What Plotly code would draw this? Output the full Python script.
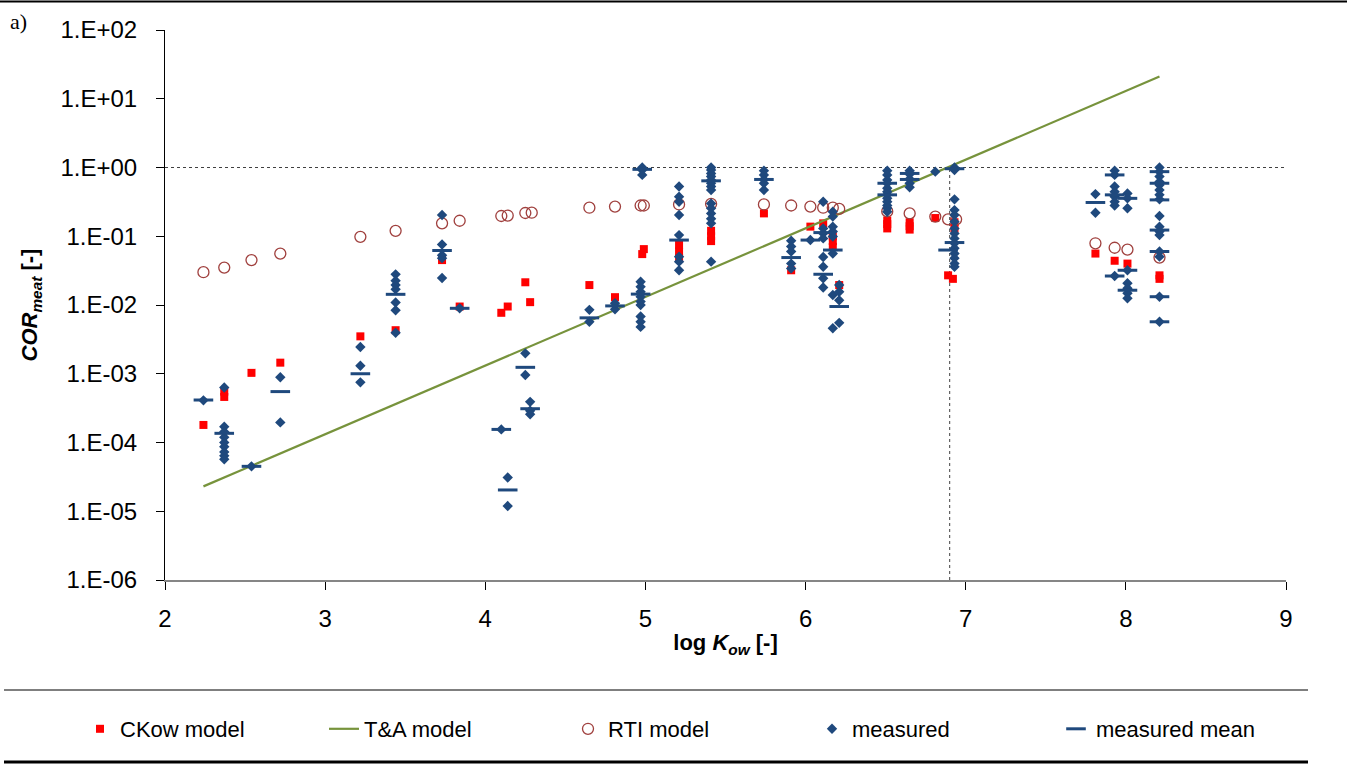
import plotly.graph_objects as go

# ---------------- data ----------------
ckow_x = [2.24, 2.37, 2.37, 2.54, 2.72, 3.22, 3.44, 3.73, 3.84, 4.10, 4.14, 4.25, 4.28,
          4.65, 4.81, 4.98, 4.99, 5.21, 5.21, 5.21, 5.41, 5.41, 5.41, 5.74, 5.91, 6.03,
          6.11, 6.17, 6.17, 6.17, 6.21, 6.51, 6.51, 6.51, 6.65, 6.65, 6.65, 6.81, 6.93,
          6.93, 6.89, 6.92, 7.81, 7.93, 8.01, 8.21, 8.21]
ckow_y = [1.8e-4, 5.5e-4, 4.6e-4, 1.03e-3, 1.45e-3, 3.5e-3, 4.3e-3, 0.045, 9.5e-3, 7.7e-3,
          9.5e-3, 0.0214, 0.011, 0.0195, 0.013, 0.055, 0.065, 0.075, 0.06, 0.048, 0.12, 0.1,
          0.085, 0.215, 0.032, 0.138, 0.154, 0.1, 0.085, 0.07, 0.0195, 0.17, 0.15, 0.13, 0.16,
          0.14, 0.125, 0.184, 0.16, 0.13, 0.027, 0.024, 0.056, 0.044, 0.040, 0.027, 0.024]

ta_x = [2.24, 8.21]
ta_y = [2.3e-5, 21.0]

rti_x = [2.24, 2.37, 2.54, 2.72, 3.22, 3.44, 3.73, 3.84, 4.10, 4.14, 4.25, 4.29, 4.65, 4.81,
         4.97, 4.99, 5.21, 5.41, 5.74, 5.91, 6.03, 6.11, 6.17, 6.21, 6.51, 6.65, 6.81, 6.89,
         6.94, 7.81, 7.93, 8.01, 8.21]
rti_y = [0.030, 0.035, 0.045, 0.056, 0.098, 0.12, 0.154, 0.168, 0.197, 0.20, 0.218, 0.22,
         0.26, 0.27, 0.28, 0.28, 0.29, 0.295, 0.29, 0.28, 0.27, 0.26, 0.26, 0.25, 0.23, 0.215,
         0.193, 0.176, 0.176, 0.079, 0.068, 0.064, 0.049]

meas_x = ([2.24] + [2.37] * 9 + [2.54] + [2.72] * 2 + [3.22] * 3 + [3.44] * 7 + [3.73] * 5 +
          [3.84] + [4.10] + [4.14] * 2 + [4.25] * 2 + [4.28] * 3 + [4.65] * 2 + [4.81] * 2 +
          [4.98] * 3 + [4.97] * 9 + [5.21] * 8 + [5.41] * 14 + [5.74] * 5 + [5.91] * 5 +
          [6.03] + [6.11] * 8 + [6.17] * 8 + [6.21] * 4 + [6.51] * 12 + [6.65] * 5 + [6.81] +
          [6.93] * 15 + [7.81] * 2 + [7.93] * 8 + [8.01] * 8 + [8.21] * 16)
meas_y = [4.1e-4,
          6.3e-4, 1.7e-4, 1.43e-4, 1.19e-4, 1.0e-4, 8.7e-5, 7.3e-5, 6.4e-5, 5.7e-5,
          4.5e-5,
          8.9e-4, 1.96e-4,
          2.45e-3, 1.31e-3, 7.5e-4,
          0.0279, 0.0226, 0.0195, 0.0169, 0.0109, 8.4e-3, 3.95e-3,
          0.204, 0.076, 0.053, 0.048, 0.0247,
          8.95e-3,
          1.55e-4,
          3.1e-5, 1.19e-5,
          1.98e-3, 9.6e-4,
          3.9e-4, 2.9e-4, 2.57e-4,
          8.5e-3, 5.7e-3,
          0.0106, 8.65e-3,
          1.0, 0.92, 0.78,
          0.0218, 0.0185, 0.0156, 0.0132, 0.0112, 0.01, 6.8e-3, 5.7e-3, 4.8e-3,
          0.53, 0.376, 0.318, 0.204, 0.104, 0.0505, 0.0427, 0.032,
          1.0, 0.92, 0.82, 0.74, 0.66, 0.59, 0.53, 0.47, 0.30, 0.255, 0.215, 0.18, 0.154, 0.0427,
          0.9, 0.78, 0.67, 0.59, 0.47,
          0.086, 0.071, 0.06, 0.04, 0.034,
          0.088,
          0.318, 0.13, 0.11, 0.093, 0.05, 0.036, 0.0244, 0.018,
          0.227, 0.193, 0.138, 0.117, 0.099, 0.056, 0.014, 4.6e-3,
          0.0195, 0.0156, 0.0117, 5.5e-3,
          0.9, 0.78, 0.66, 0.59, 0.5, 0.445, 0.4, 0.356, 0.318, 0.28, 0.255, 0.227,
          0.9, 0.8, 0.68, 0.59, 0.515,
          0.87,
          1.0, 0.92, 0.344, 0.24, 0.204, 0.163, 0.13, 0.11, 0.093, 0.079, 0.067, 0.056, 0.048,
          0.040, 0.036,
          0.41, 0.22,
          0.9, 0.78, 0.53, 0.445, 0.376, 0.318, 0.28, 0.0264,
          0.42, 0.356, 0.255, 0.032, 0.0207, 0.0175, 0.0148, 0.0125,
          1.0, 0.87, 0.74, 0.62, 0.556, 0.47, 0.40, 0.344, 0.197, 0.138, 0.117, 0.104, 0.06,
          0.0505, 0.0132, 5.7e-3]

mean_x = [2.24, 2.37, 2.54, 2.72, 3.22, 3.44, 3.73, 3.84, 4.10, 4.14, 4.25, 4.28, 4.65, 4.81,
          4.98, 4.97, 5.21, 5.41, 5.74, 5.91, 6.03, 6.11, 6.11, 6.17, 6.21, 6.51, 6.51, 6.65,
          6.65, 6.93, 6.93, 6.89, 7.81, 7.93, 7.93, 7.93, 8.01, 8.01, 8.01, 8.21, 8.21, 8.21,
          8.21, 8.21, 8.21, 8.21]
mean_y = [4.15e-4, 1.36e-4, 4.5e-5, 5.5e-4, 1.0e-3, 0.0143, 0.062, 8.95e-3, 1.55e-4, 2.04e-5,
          1.24e-3, 3.1e-4, 6.5e-3, 9.7e-3, 0.94, 0.0144, 0.088, 0.64, 0.67, 0.049, 0.088,
          0.113, 0.028, 0.063, 9.5e-3, 0.59, 0.40, 0.82, 0.67, 0.96, 0.081, 0.063, 0.31,
          0.78, 0.40, 0.0264, 0.356, 0.032, 0.0164, 0.87, 0.59, 0.338, 0.123, 0.06, 0.0132,
          5.7e-3]

y_tickvals = [1e-6, 1e-5, 1e-4, 1e-3, 1e-2, 1e-1, 1e0, 1e1, 1e2]
y_ticktext = ["1.E-06", "1.E-05", "1.E-04", "1.E-03", "1.E-02", "1.E-01", "1.E+00",
              "1.E+01", "1.E+02"]
x_tickvals = [2, 3, 4, 5, 6, 7, 8, 9]

ref_y = 1.0     # horizontal dashed reference
ref_x = 6.9     # vertical dashed reference

# ---------------- figure ----------------
BLUE = "#1F497D"
FONT = "Liberation Sans, Arial, sans-serif"

fig = go.Figure()
fig.add_trace(go.Scatter(x=ckow_x, y=ckow_y, mode="markers", name="CKow model",
                         marker=dict(symbol="square", size=8, color="#FF0000")))
fig.add_trace(go.Scatter(x=ta_x, y=ta_y, mode="lines", name="T&A model",
                         line=dict(color="#77933C", width=2.2)))
fig.add_trace(go.Scatter(x=rti_x, y=rti_y, mode="markers", name="RTI model",
                         marker=dict(symbol="circle-open", size=11, color="#A0403E",
                                     line=dict(width=1.3, color="#A0403E"))))
fig.add_trace(go.Scatter(x=meas_x, y=meas_y, mode="markers", name="measured",
                         marker=dict(symbol="diamond", size=8, color=BLUE)))
fig.add_trace(go.Scatter(x=mean_x, y=mean_y, mode="markers", name="measured mean",
                         marker=dict(symbol="line-ew", size=14, color=BLUE,
                                     line=dict(width=3, color=BLUE))))

# dashed reference lines
fig.add_shape(type="line", xref="x", yref="y", x0=2, x1=9, y0=ref_y, y1=ref_y,
              line=dict(color="#404040", width=1, dash="3px,3px"), layer="below")
fig.add_shape(type="line", xref="x", yref="y", x0=ref_x, x1=ref_x, y0=1e-6, y1=ref_y,
              line=dict(color="#404040", width=1, dash="3px,3px"), layer="below")

# frame lines around the figure / legend
PW, PH, L, T = 1121.0, 550.0, 165.0, 30.0
def px(xp):
    return (xp - L) / PW
def py(yp):
    return (T + PH - yp) / PH

fig.add_shape(type="line", xref="paper", yref="paper", x0=px(0), x1=px(1347),
              y0=py(1.5), y1=py(1.5), line=dict(color="black", width=2))
fig.add_shape(type="line", xref="paper", yref="paper", x0=px(4), x1=px(1308),
              y0=py(690), y1=py(690), line=dict(color="black", width=1.2))
fig.add_shape(type="line", xref="paper", yref="paper", x0=px(4), x1=px(1308),
              y0=py(762), y1=py(762), line=dict(color="black", width=3))

fig.add_annotation(text="a)", xref="paper", yref="paper", x=px(8), y=py(22),
                   xanchor="left", yanchor="middle", showarrow=False,
                   font=dict(family="Liberation Serif, Times New Roman, serif", size=22,
                             color="black"))

fig.update_layout(
    width=1347, height=765,
    margin=dict(l=165, r=61, t=30, b=185),
    paper_bgcolor="white", plot_bgcolor="white",
    font=dict(family=FONT, size=21, color="black"),
    showlegend=True,
    legend=dict(orientation="h", x=px(80), y=py(729), xanchor="left", yanchor="middle",
                entrywidth=199, entrywidthmode="pixels",
                font=dict(family=FONT, size=22, color="black"),
                bgcolor="rgba(0,0,0,0)", itemsizing="trace"),
)

fig.update_xaxes(range=[2, 9], tickvals=x_tickvals, showgrid=False, zeroline=False,
                 showline=True, linecolor="#868686", linewidth=2,
                 ticks="outside", ticklen=8, tickcolor="black", tickwidth=1,
                 tickfont=dict(family=FONT, size=24, color="black"),
                 ticklabelstandoff=8,
                 title=dict(text="<b>log <i>K<sub>ow</sub></i> [-]</b>",
                            font=dict(family=FONT, size=22, color="black"), standoff=4))
fig.update_yaxes(type="log", range=[-6, 2], tickvals=y_tickvals, ticktext=y_ticktext,
                 showgrid=False, zeroline=False, showline=True, linecolor="black",
                 linewidth=1, ticks="outside", ticklen=8, tickcolor="black",
                 tickfont=dict(family=FONT, size=24, color="black"),
                 ticklabelstandoff=14,
                 title=dict(text="<b><i>COR<sub>meat</sub></i> [-]</b>",
                            font=dict(family=FONT, size=22, color="black"), standoff=16))

fig.write_html("out.html", config={"displayModeBar": False},
               post_script="document.body.style.margin='0';")
